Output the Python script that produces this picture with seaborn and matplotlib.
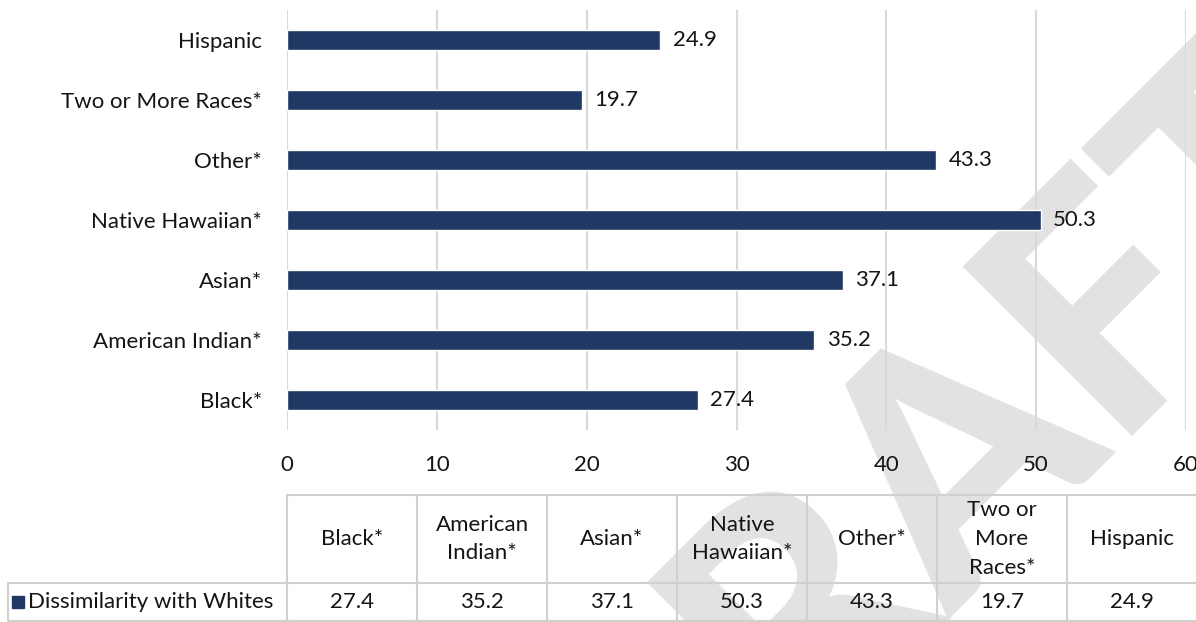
import matplotlib
matplotlib.use("Agg")
import matplotlib.pyplot as plt
import seaborn as sns
import pandas as pd
from matplotlib.patches import Rectangle

# ---- data ----
categories = ["Hispanic", "Two or More Races*", "Other*", "Native Hawaiian*",
              "Asian*", "American Indian*", "Black*"]
values = [24.9, 19.7, 43.3, 50.3, 37.1, 35.2, 27.4]
series_name = "Dissimilarity with Whites"
table_headers = ["Black*", "American\nIndian*", "Asian*", "Native\nHawaiian*",
                 "Other*", "Two or\nMore\nRaces*", "Hispanic"]
table_values = [27.4, 35.2, 37.1, 50.3, 43.3, 19.7, 24.9]
x_ticks = [0, 10, 20, 30, 40, 50, 60]

BAR = "#203864"
GRID = "#d9d9d9"
TXT = "#141414"
FONT = "Lato"
FS = 16

sns.set_theme(style="white")
plt.rcParams["font.family"] = [FONT, "DejaVu Sans"]

W, H = 1196, 622
fig = plt.figure(figsize=(W / 100, H / 100), dpi=100)
fig.patch.set_facecolor("white")

# watermark (behind everything)
fig.text(998 / W, 1 - 545 / H, "DRAFT", rotation=45, fontsize=238,
         fontweight=900, color="#e2e2e2", ha="center", va="baseline",
         rotation_mode="anchor", zorder=-5)

ax = fig.add_axes([287 / W, 1 - 430 / H, (1186 - 287) / W, 420 / H])
ax.patch.set_visible(False)
df = pd.DataFrame({"cat": categories, "val": values})
sns.barplot(data=df, x="val", y="cat", orient="h", color=BAR, width=0.33,
            saturation=1, ax=ax, zorder=3)
for c in ax.containers:
    ax.bar_label(c, labels=[f"{v:.1f}" for v in values], padding=9,
                 fontsize=FS, color=TXT, family=FONT)
ax.set_xlim(0, 60)
ax.set_xticks(x_ticks)
ax.grid(axis="x", color=GRID, linewidth=1.5, zorder=0)
ax.grid(axis="y", visible=False)
for s in ax.spines.values():
    s.set_visible(False)
ax.set_xlabel("")
ax.set_ylabel("")
ax.tick_params(axis="x", length=0, pad=18, labelsize=FS, labelcolor=TXT)
ax.tick_params(axis="y", length=0, pad=18, labelsize=FS, labelcolor=TXT)

# ---- data table below ----
tab = fig.add_axes([0, 0, 1, 1])
tab.patch.set_visible(False)
tab.set_xlim(0, W)
tab.set_ylim(H, 0)
tab.axis("off")
x0, cw = 287, 130
top, mid, bot = 495, 583, 621
ncol = len(table_headers)
right = x0 + cw * ncol
LC = "#d0d0d0"
lw = 1.5
tab.plot([x0, right], [top, top], color=LC, lw=lw)
tab.plot([8, right], [mid, mid], color=LC, lw=lw)
tab.plot([8, right], [bot, bot], color=LC, lw=lw)
tab.plot([8, 8], [mid, bot], color=LC, lw=lw)
for i in range(ncol + 1):
    tab.plot([x0 + i * cw] * 2, [top, bot], color=LC, lw=lw)
for i, (h, v) in enumerate(zip(table_headers, table_values)):
    cx = x0 + cw * (i + 0.5)
    tab.text(cx, (top + mid) / 2, h, ha="center", va="center", fontsize=FS,
             color=TXT, linespacing=1.55)
    tab.text(cx, (mid + bot) / 2, f"{v:.1f}", ha="center", va="center",
             fontsize=FS, color=TXT)
tab.add_patch(Rectangle((12, (mid + bot) / 2 - 6), 12, 12, color=BAR))
tab.text(28, (mid + bot) / 2, series_name, ha="left", va="center",
         fontsize=FS, color=TXT)

fig.savefig("out.png", dpi=100)
